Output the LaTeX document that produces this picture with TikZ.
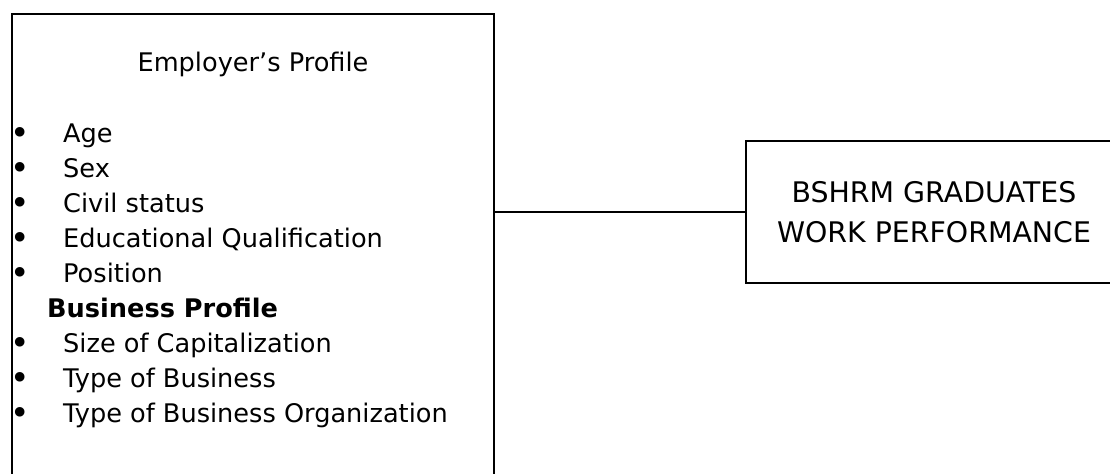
\documentclass[tikz,border=0pt]{standalone}
\usepackage{fontspec}
\setmainfont{DejaVu Sans}
\begin{document}
\begin{tikzpicture}[x=1bp,y=-1bp,
  boxstyle/.style={draw,line width=2.6bp,inner sep=0pt},
  itemtext/.style={anchor=base west,inner sep=0pt,font=\fontsize{25.7}{30}\selectfont},
  dotstyle/.style={anchor=base,inner sep=0pt,font=\fontsize{33}{30}\selectfont}]
  \clip (0,0) rectangle (1110,474);

  % the two boxes
  \node [boxstyle,minimum width=482bp,minimum height=500bp] (emp) at (253,264) {};
  \node [boxstyle,minimum width=376bp,minimum height=142bp,align=center,
         font=\fontsize{28.5}{40}\selectfont] (res) at (934,212)
         {BSHRM GRADUATES\\WORK PERFORMANCE};

  % list in the left box
  \node [anchor=base,inner sep=0pt,font=\fontsize{25.7}{30}\selectfont] (emptitle) at (253,72) {Employer’s Profile};
  \foreach \t [count=\i] in {Age,Sex,Civil status,Educational Qualification,Position}
    {\node [dotstyle] (d\i) at (20,110+35*\i) {•};
     \node [itemtext] (i\i) at (63,108+35*\i) {\t};}
  \node [itemtext,font=\fontsize{25.7}{30}\selectfont\bfseries] (bus) at (47,318) {Business Profile};
  \foreach \t [count=\i from 6] in {Size of Capitalization,Type of Business,Type of Business Organization}
    {\node [dotstyle] (d\i) at (20,145+35*\i) {•};
     \node [itemtext] (i\i) at (63,143+35*\i) {\t};}

  \draw [line width=2.6bp] (res.west) -- (res.west -| emp.east);
\end{tikzpicture}
\end{document}
